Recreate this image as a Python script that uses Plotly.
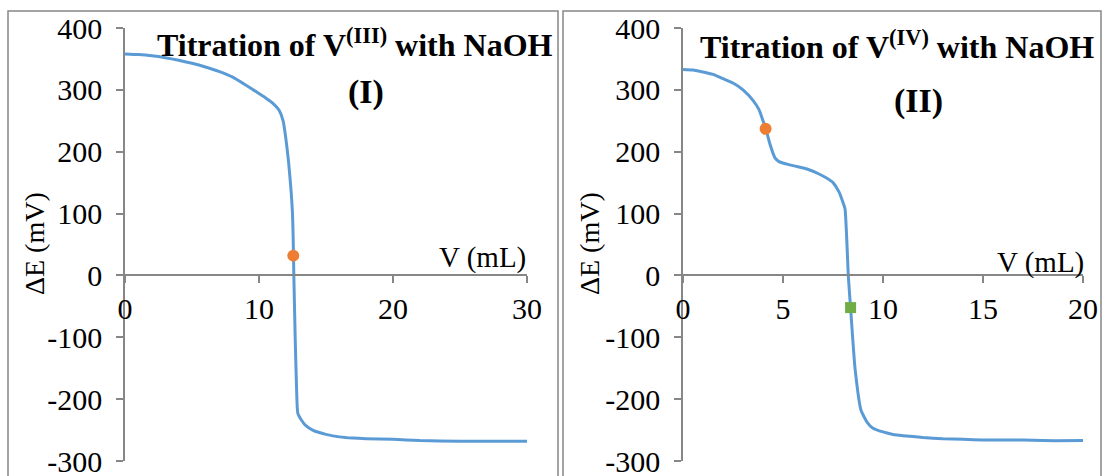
import plotly.graph_objects as go

W, H = 1103, 476

# ---- Data ----
# Panel I: titration of V(III) with NaOH
v1 = [0, 1, 2, 3, 4, 5, 6, 7, 8, 9, 10, 10.5, 11, 11.5, 11.8, 12.0, 12.2, 12.4,
      12.5, 12.55, 12.6, 12.7, 12.8, 12.9, 13.2, 13.5, 14, 14.5, 15, 16, 17, 18,
      20, 22, 25, 28, 30]
e1 = [358, 357, 355, 352, 348, 343, 337, 330, 321, 308, 294, 287, 279, 267, 250,
      222, 185, 135, 100, 60, 0, -100, -180, -223, -235, -243, -250, -254, -257,
      -261, -263, -264, -265, -267, -268, -268, -268]
# Panel II: titration of V(IV) with NaOH
v2 = [0, 0.5, 1, 1.5, 2, 2.5, 3, 3.5, 3.8, 4.0, 4.15, 4.35, 4.6, 4.8, 5.2, 5.7,
      6.2, 6.8, 7.2, 7.5, 7.8, 8.0, 8.1, 8.27, 8.38, 8.47, 8.6, 8.9, 9.2, 9.5,
      10, 10.5, 11, 12, 13, 14, 15, 17, 18, 20]
e2 = [333, 332, 329, 325, 318, 311, 300, 283, 268, 250, 236, 212, 190, 184, 180,
      176, 172, 164, 157, 150, 135, 118, 108, -3, -53, -95, -150, -218, -237, -247,
      -253, -257, -259, -262, -264, -265, -266, -266, -267, -267]
# Equivalence points
eq1_v, eq1_e = [12.56], [32]
eq2a_v, eq2a_e = [4.13], [237]
eq2b_v, eq2b_e = [8.38], [-52]

x_ticks1 = [0, 10, 20, 30]
x_ticks2 = [0, 5, 10, 15, 20]
y_ticks = [-300, -200, -100, 0, 100, 200, 300, 400]
y_tick_text = ['-300', '-200', '-100', '0', '100', '200', '300', '400']

BLUE = '#5B9BD5'
ORANGE = '#ED7D31'
GREEN = '#70AD47'
GREY = '#878787'
FONT = 'Liberation Serif'


def px(p):
    return p / W


def py(p):
    return 1 - p / H


line_style = dict(color=BLUE, width=3, shape='spline', smoothing=0.5)

fig = go.Figure()
fig.add_trace(go.Scatter(x=v1, y=e1, mode='lines', line=line_style,
                         xaxis='x', yaxis='y', showlegend=False))
fig.add_trace(go.Scatter(x=eq1_v, y=eq1_e, mode='markers',
                         marker=dict(color=ORANGE, size=12, symbol='circle'),
                         xaxis='x', yaxis='y', showlegend=False))
fig.add_trace(go.Scatter(x=v2, y=e2, mode='lines', line=line_style,
                         xaxis='x2', yaxis='y2', showlegend=False))
fig.add_trace(go.Scatter(x=eq2a_v, y=eq2a_e, mode='markers',
                         marker=dict(color=ORANGE, size=12, symbol='circle'),
                         xaxis='x2', yaxis='y2', showlegend=False))
fig.add_trace(go.Scatter(x=eq2b_v, y=eq2b_e, mode='markers',
                         marker=dict(color=GREEN, size=11, symbol='square'),
                         xaxis='x2', yaxis='y2', showlegend=False))

tickfont = dict(family=FONT, size=30, color='black')
ydom = [py(461), py(28)]
x0pos = py(275)

common_x = dict(showline=True, linecolor=GREY, linewidth=1.5, ticks='outside',
                ticklen=7, tickcolor=GREY, tickwidth=1.5, showgrid=False,
                zeroline=False, tickfont=tickfont, anchor='free', position=x0pos,
                ticklabelstandoff=0, automargin=False, ticklabeloverflow='allow')
common_y = dict(showline=True, linecolor=GREY, linewidth=1.5, ticks='outside',
                ticklen=7, tickcolor=GREY, tickwidth=1.5, showgrid=False,
                zeroline=False, tickfont=tickfont, domain=ydom, range=[-300, 400],
                tickvals=y_ticks, ticktext=y_tick_text, ticklabelstandoff=8,
                automargin=False, ticklabeloverflow='allow')

fig.update_layout(
    width=W, height=H,
    margin=dict(l=0, r=0, t=0, b=0),
    paper_bgcolor='white', plot_bgcolor='white',
    xaxis=dict(domain=[px(125), px(527)], range=[0, 30], tickvals=x_ticks1, **common_x),
    yaxis=dict(anchor='x', **common_y),
    xaxis2=dict(domain=[px(683), px(1083)], range=[0, 20], tickvals=x_ticks2, **common_x),
    yaxis2=dict(anchor='x2', **common_y),
)

shapes = [
    dict(type='rect', xref='paper', yref='paper', x0=px(8), x1=px(558), y0=py(490), y1=py(11),
         line=dict(color=GREY, width=1.5)),
    dict(type='rect', xref='paper', yref='paper', x0=px(563), x1=px(1101), y0=py(490), y1=py(11),
         line=dict(color=GREY, width=1.5)),
]
fig.update_layout(shapes=shapes)

anns = []
# y axis titles
for cx in (35, 590):
    anns.append(dict(text='ΔE (mV)', x=px(cx), y=py(244), xref='paper', yref='paper',
                     xanchor='center', yanchor='middle', textangle=-90, showarrow=False,
                     font=dict(family=FONT, size=28, color='black')))
# x axis titles
for rx, cy in ((528, 257), (1086, 262)):
    anns.append(dict(text='V (mL)', x=px(rx), y=py(cy), xref='paper', yref='paper',
                     xanchor='right', yanchor='middle', showarrow=False,
                     font=dict(family=FONT, size=29, color='black')))
# titles
anns.append(dict(text='<b>Titration of V<sup>(III)</sup> with NaOH</b>', x=px(355), y=py(43),
                 xref='paper', yref='paper', xanchor='center', yanchor='middle', showarrow=False,
                 font=dict(family=FONT, size=32, color='black')))
anns.append(dict(text='<b>(I)</b>', x=px(366), y=py(92), xref='paper', yref='paper',
                 xanchor='center', yanchor='middle', showarrow=False,
                 font=dict(family=FONT, size=34, color='black')))
anns.append(dict(text='<b>Titration of V<sup>(IV)</sup> with NaOH</b>', x=px(897), y=py(45),
                 xref='paper', yref='paper', xanchor='center', yanchor='middle', showarrow=False,
                 font=dict(family=FONT, size=32, color='black')))
anns.append(dict(text='<b>(II)</b>', x=px(918), y=py(101), xref='paper', yref='paper',
                 xanchor='center', yanchor='middle', showarrow=False,
                 font=dict(family=FONT, size=34, color='black')))
fig.update_layout(annotations=anns)

fig.write_html('out.html')
